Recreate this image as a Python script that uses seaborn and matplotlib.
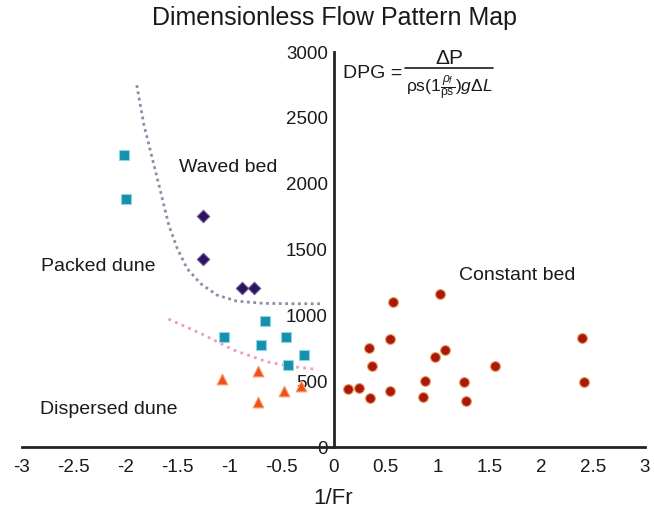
import matplotlib
matplotlib.use("Agg")
import matplotlib.pyplot as plt
from matplotlib.lines import Line2D
import seaborn as sns
import pandas as pd

# ---- data ----
packed_x = [-2.02, -2.0, -1.05, -0.66, -0.70, -0.46, -0.28, -0.44]
packed_y = [2215, 1885, 835, 955, 775, 835, 695, 620]

waved_x = [-1.26, -1.26, -0.88, -0.77]
waved_y = [1755, 1430, 1205, 1205]

dispersed_x = [-1.07, -0.73, -0.73, -0.48, -0.31]
dispersed_y = [515, 575, 345, 425, 460]

constant_x = [0.14, 0.25, 0.35, 0.54, 0.37, 0.34, 0.54, 0.57, 0.88, 0.86,
              0.98, 1.07, 1.03, 1.26, 1.28, 1.56, 2.39, 2.41]
constant_y = [440, 450, 372, 423, 615, 750, 817, 1098, 500, 380,
              683, 736, 1164, 493, 347, 615, 830, 493]

upper_curve_x = [-1.895, -1.825, -1.745, -1.665, -1.586, -1.505, -1.41, -1.282,
                 -1.122, -0.931, -0.677, -0.357, -0.118]
upper_curve_y = [2748, 2444, 2191, 1938, 1685, 1508, 1356, 1242,
                 1154, 1108, 1091, 1088, 1088]

lower_curve_x = [-1.59, -1.28, -0.96, -0.64, -0.39, -0.18]
lower_curve_y = [972, 863, 736, 647, 609, 592]

x_ticks = [-3, -2.5, -2, -1.5, -1, -0.5, 0, 0.5, 1, 1.5, 2, 2.5, 3]
x_ticklabels = ["-3", "-2.5", "-2", "-1.5", "-1", "-0.5", "0", "0.5", "1", "1.5", "2", "2.5", "3"]
y_ticks = [0, 500, 1000, 1500, 2000, 2500, 3000]
y_ticklabels = ["0", "500", "1000", "1500", "2000", "2500", "3000"]

# ---- style ----
sns.set_theme(style="white")
plt.rcParams['font.family'] = ['Liberation Sans', 'DejaVu Sans']
plt.rcParams['mathtext.fontset'] = 'custom'
plt.rcParams['mathtext.rm'] = 'Liberation Sans'
plt.rcParams['mathtext.it'] = 'Liberation Sans:italic'
plt.rcParams['mathtext.bf'] = 'Liberation Sans:bold'

fig = plt.figure(figsize=(6.54, 5.2), dpi=100)
ax = fig.add_axes([22 / 654, 73 / 520, 623 / 654, 395 / 520])

# boundary curves
sns.lineplot(x=upper_curve_x, y=upper_curve_y, sort=False, ax=ax, color="#8c8ca6",
             linewidth=2.0, linestyle=(0, (1, 1.3)), estimator=None)
sns.lineplot(x=lower_curve_x, y=lower_curve_y, sort=False, ax=ax, color="#f29ab8",
             linewidth=2.0, linestyle=(0, (1, 1.6)), estimator=None)

groups = [
    (packed_x, packed_y, "s", "#1590ad", "#8fd6e6", 60),
    (waved_x, waved_y, "D", "#2b1360", "#6a5a9a", 40),
    (dispersed_x, dispersed_y, "^", "#f0501a", "#f8a070", 60),
    (constant_x, constant_y, "o", "#a8180c", "#e8a060", 50),
]
for gx, gy, mk, fc, ec, sz in groups:
    df = pd.DataFrame({"x": gx, "y": gy})
    sns.scatterplot(data=df, x="x", y="y", marker=mk, color=fc, edgecolor=ec,
                    linewidth=0.8, s=sz, ax=ax, zorder=2)

ax.set_xlim(-3, 3)
ax.set_ylim(0, 3000)
ax.set_xticks(x_ticks)
ax.set_xticklabels(x_ticklabels)
ax.set_yticks(y_ticks)
ax.set_yticklabels(y_ticklabels)
ax.tick_params(axis='both', length=0, labelsize=13.5, colors="#1a1a1a")
ax.tick_params(axis='x', pad=9)
ax.tick_params(axis='y', pad=4)
for lab in ax.get_yticklabels():
    lab.set_bbox(dict(facecolor="white", edgecolor="none", pad=0.5))

ax.spines['top'].set_visible(False)
ax.spines['right'].set_visible(False)
ax.spines['left'].set_position(('data', 0))
for sp in ('left', 'bottom'):
    ax.spines[sp].set_color("#222222")
    ax.spines[sp].set_linewidth(2.0)
    ax.spines[sp].set_zorder(1)

ax.set_xlabel("1/Fr", fontsize=16, labelpad=8, color="#1a1a1a")
ax.set_ylabel("")
fig.text(335 / 654, 1 - 18 / 520, "Dimensionless Flow Pattern Map", fontsize=18,
         ha="center", va="center", color="#1a1a1a")

ax.text(-1.01, 2125, "Waved bed", fontsize=14, ha="center", va="center", color="#1a1a1a")
ax.text(-2.27, 1374, "Packed dune", fontsize=14, ha="center", va="center", color="#1a1a1a")
ax.text(-2.16, 288, "Dispersed dune", fontsize=14, ha="center", va="center", color="#1a1a1a")
ax.text(1.77, 1305, "Constant bed", fontsize=14, ha="center", va="center", color="#1a1a1a")

# formula
fig.text(343 / 654, 1 - 73 / 520, "DPG =", fontsize=14, ha="left", va="center",
         color="#1a1a1a")
fig.text(449 / 654, 1 - 59 / 520, r"$\Delta$P", fontsize=15, ha="center", va="center",
         color="#1a1a1a")
fig.add_artist(Line2D([405 / 654, 493 / 654], [1 - 68 / 520, 1 - 68 / 520],
                      transform=fig.transFigure, color="#1a1a1a", linewidth=1.2))
fig.text(449 / 654, 1 - 88 / 520,
         r"ρs(1$\frac{\rho_f}{\mathrm{\rho s}}$)$g\Delta L$",
         fontsize=12.5, ha="center", va="center", color="#1a1a1a")

fig.savefig("out.png", dpi=100)
